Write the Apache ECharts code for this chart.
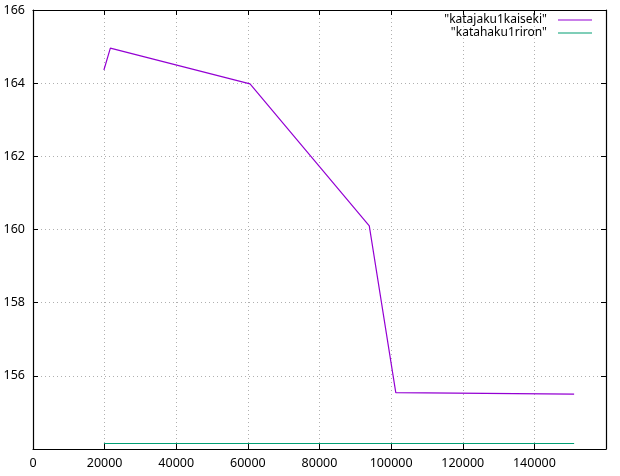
<!DOCTYPE html>
<html><head><meta charset="utf-8">
<script src="https://cdn.jsdelivr.net/npm/echarts@6/dist/echarts.min.js"></script>
<style>html,body{margin:0;padding:0;background:#fff}#c{width:620px;height:476px}</style>
</head><body><div id="c"></div>
<script>
const seriesNames = ['"katajaku1kaiseki"', '"katahaku1riron"'];
const kaisekiX = [19800, 21600, 60600, 93900, 101300, 151100];
const kaisekiY = [164.36, 164.96, 163.98, 160.10, 155.54, 155.50];
const rironX = [19800, 151100];
const rironY = [154.15, 154.15];
const xTicks = [0, 20000, 40000, 60000, 80000, 100000, 120000, 140000];
const yTicks = [156, 158, 160, 162, 164, 166];

const font = 'Noto Sans';
const chart = echarts.init(document.getElementById('c'), null, {renderer: 'canvas'});
const pairs = (xs, ys) => xs.map((x, i) => [x, ys[i]]);
const axCommon = {
  axisLine: {show: true, onZero: false, lineStyle: {color: '#000', width: 1.2}},
  axisTick: {show: true, inside: true, length: 5, lineStyle: {color: '#000', width: 1}},
};
const legendBase = {right: 28, orient: 'vertical', align: 'right', itemWidth: 34, itemHeight: 1, padding: 0,
  icon: 'rect', textStyle: {fontFamily: font, fontSize: 12, lineHeight: 12, color: '#000', padding: [0, 6, 0, 0]}};
chart.setOption({
  animation: false,
  grid: {left: 33, right: 14, top: 10, bottom: 27, show: false},
  legend: [
    Object.assign({data: [seriesNames[0]], top: 14}, legendBase),
    Object.assign({data: [seriesNames[1]], top: 27}, legendBase)
  ],
  xAxis: [
    Object.assign({type: 'value', min: 0, max: 160000, interval: 20000, position: 'bottom',
      axisLabel: {fontFamily: font, fontSize: 12.5, color: '#000', margin: 8,
        formatter: v => xTicks.includes(v) ? String(v) : ''},
      splitLine: {show: true, lineStyle: {type: [1, 3], color: '#b0b0b0'}}}, axCommon),
    Object.assign({type: 'value', min: 0, max: 160000, interval: 20000, position: 'top',
      axisLabel: {show: false}, splitLine: {show: false}}, axCommon)
  ],
  yAxis: [
    Object.assign({type: 'value', min: 154, max: 166, interval: 2, position: 'left',
      axisLabel: {fontFamily: font, fontSize: 12.5, color: '#000', margin: 8,
        formatter: v => yTicks.includes(v) ? String(v) : ''},
      splitLine: {show: true, lineStyle: {type: [1, 3], color: '#b0b0b0'}}}, axCommon),
    Object.assign({type: 'value', min: 154, max: 166, interval: 2, position: 'right',
      axisLabel: {show: false}, splitLine: {show: false}}, axCommon)
  ],
  series: [
    {name: seriesNames[0], type: 'line', data: pairs(kaisekiX, kaisekiY), showSymbol: false,
     lineStyle: {color: '#9400d3', width: 1.2}, itemStyle: {color: '#9400d3'}},
    {name: seriesNames[1], type: 'line', data: pairs(rironX, rironY), showSymbol: false,
     lineStyle: {color: '#009e73', width: 1.2}, itemStyle: {color: '#009e73'}}
  ]
});
</script></body></html>
